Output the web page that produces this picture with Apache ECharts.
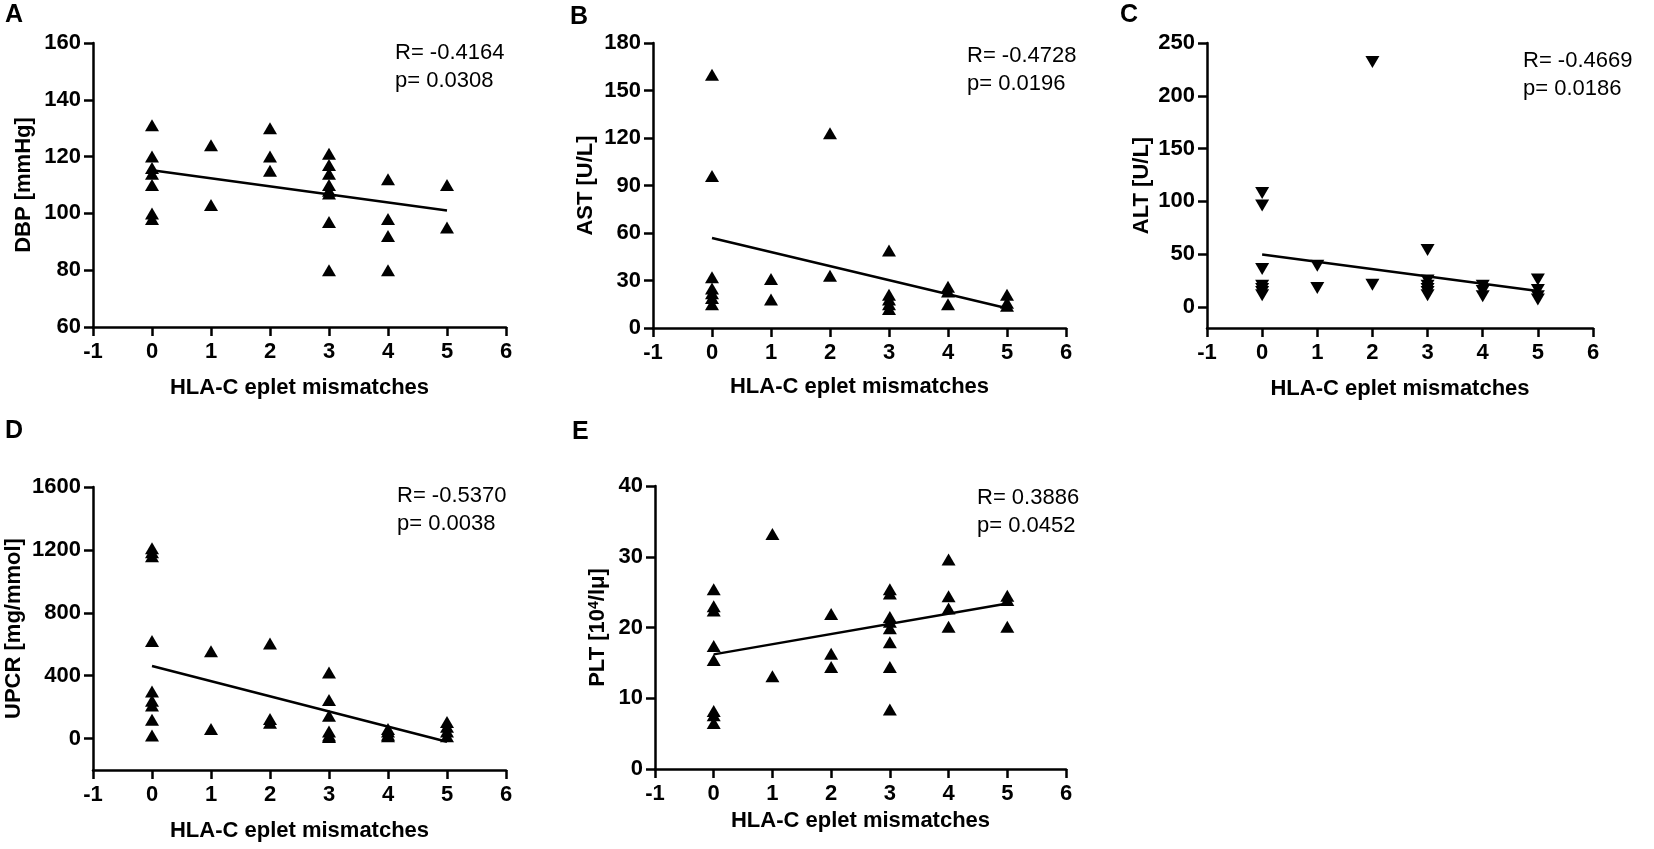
<!DOCTYPE html>
<html style="height: 100%">
<head>
<meta charset="utf-8">
</head>
<body style="height: 100%; margin: 0; background: #fff">
<div id="container" style="width: 1654px; height: 849px"></div>
<script src="https://cdn.jsdelivr.net/npm/echarts@6/dist/echarts.min.js"></script>
<script type="text/javascript">
// HLA-C eplet mismatches (x) for each panel, with the measured value (y)
var xA = [0,0,0,0,0,0,0, 1,1, 2,2,2, 3,3,3,3,3,3,3,3, 4,4,4,4, 5,5];
var dbp = [131,120,116,114,110,100,98, 124,103, 130,120,115, 121,117,114,110,108,107,97,80, 112,98,92,80, 110,95];

var xB = [0,0,0,0,0,0,0, 1,1, 2,2, 3,3,3,3,3, 4,4,4, 5,5,5];
var ast = [160,96,32,25,22,19,15, 31,18, 123,33, 49,21,18,15,12, 26,23,15, 21,16,14];

var xC = [0,0,0,0,0,0,0, 1,1, 2,2, 3,3,3,3,3,3, 4,4,4, 5,5,5,5];
var alt = [108,96,36,20,17,14,11, 39,18, 232,21, 54,25,20,17,14,11, 20,15,10, 26,16,10,7];

var xD = [0,0,0,0,0,0,0,0,0, 1,1, 2,2,2, 3,3,3,3,3,3, 4,4,4,4, 5,5,5,5];
var upcr = [1210,1185,1160,620,300,240,210,120,20, 555,60, 605,125,100, 420,245,145,45,20,10, 60,45,25,15, 105,75,45,15];

var xE = [0,0,0,0,0,0,0,0, 1,1, 2,2,2, 3,3,3,3,3,3,3,3, 4,4,4,4, 5,5,5];
var plt = [25.4,23.0,22.4,17.4,15.4,8.2,7.6,6.5, 33.2,13.1, 21.9,16.3,14.4, 25.4,24.8,21.5,20.8,19.9,17.9,14.4,8.4, 29.6,24.4,22.7,20.1, 24.5,23.9,20.1];

// regression line ends (x = 0 and x = 5)
var fitA = [115.2, 101.0];
var fitB = [56.8, 12.5];
var fitC = [49.7, 15.0];
var fitD = [462, -20];
var fitE = [16.2, 23.4];

var xTicks = [-1, 0, 1, 2, 3, 4, 5, 6];
var ticksC = [0, 50, 100, 150, 200, 250];
var ticksD = [0, 400, 800, 1200, 1600];

var stats = [
    ['R= -0.4164', 'p= 0.0308'],
    ['R= -0.4728', 'p= 0.0196'],
    ['R= -0.4669', 'p= 0.0186'],
    ['R= -0.5370', 'p= 0.0038'],
    ['R= 0.3886', 'p= 0.0452']
];
var letters = ['A', 'B', 'C', 'D', 'E'];

var FONT = '"Liberation Sans", Arial, sans-serif';
var axisLine = {onZero: false, lineStyle: {color: '#000', width: 2.5}};
var axisTick = {length: 9, lineStyle: {color: '#000', width: 2.5}};
var lbl = {color: '#000', fontFamily: FONT, fontWeight: 'bold', fontSize: 22,
    formatter: function (v) { return String(v); }};

function pairs(xs, ys) {
    return xs.map(function (x, i) { return [x, ys[i]]; });
}

var panels = [
    {grid: {left: 93, top: 43, width: 413, height: 284}, xs: xA, ys: dbp, fit: fitA,
     y: {min: 60, max: 160, interval: 20}, name: 'DBP [mmHg]', yGap: 58, xGap: 50},
    {grid: {left: 653, top: 43, width: 413, height: 285}, xs: xB, ys: ast, fit: fitB,
     y: {min: 0, max: 180, interval: 30}, name: 'AST [U/L]', yGap: 56, xGap: 48},
    {grid: {left: 1207, top: 43, width: 386, height: 285}, xs: xC, ys: alt, fit: fitC,
     y: {min: -20, max: 250, custom: ticksC}, name: 'ALT [U/L]', yGap: 54, xGap: 50, down: true},
    {grid: {left: 93, top: 487, width: 413, height: 283}, xs: xD, ys: upcr, fit: fitD,
     y: {min: -200, max: 1600, custom: ticksD}, name: 'UPCR [mg/mmol]', yGap: 68, xGap: 50},
    {grid: {left: 655, top: 486, width: 411, height: 283}, xs: xE, ys: plt, fit: fitE,
     y: {min: 0, max: 40, interval: 10}, name: 'PLT [10{sup|4}/lμ]', yGap: 46, xGap: 41}
];

var option = {
    animation: false,
    backgroundColor: '#fff',
    grid: [], xAxis: [], yAxis: [], series: [], graphic: []
};

panels.forEach(function (p, i) {
    option.grid.push(p.grid);
    option.xAxis.push({
        type: 'value', gridIndex: i, min: xTicks[0], max: xTicks[xTicks.length - 1], interval: 1,
        name: 'HLA-C eplet mismatches', nameLocation: 'middle', nameGap: p.xGap,
        nameTextStyle: {color: '#000', fontFamily: FONT, fontWeight: 'bold', fontSize: 22},
        axisLine: axisLine, axisTick: axisTick, splitLine: {show: false},
        axisLabel: Object.assign({margin: 14}, lbl)
    });
    var ya = {
        type: 'value', gridIndex: i, min: p.y.min, max: p.y.max,
        name: p.name, nameLocation: 'middle', nameGap: p.yGap,
        nameTextStyle: {color: '#000', fontFamily: FONT, fontWeight: 'bold', fontSize: 22,
            rich: {sup: {fontFamily: FONT, fontWeight: 'bold', fontSize: 14, verticalAlign: 'top', padding: [0, 0, 8, 0]}}},
        axisLine: axisLine, axisTick: Object.assign({}, axisTick), splitLine: {show: false},
        axisLabel: Object.assign({margin: 12}, lbl)
    };
    if (p.y.custom) {
        ya.axisTick.customValues = p.y.custom;
        ya.axisLabel.customValues = p.y.custom;
    } else {
        ya.interval = p.y.interval;
    }
    option.yAxis.push(ya);
    option.series.push({
        type: 'scatter', xAxisIndex: i, yAxisIndex: i,
        symbol: 'triangle', symbolSize: [14, 12], symbolRotate: p.down ? 180 : 0,
        itemStyle: {color: '#000', opacity: 1}, z: 3,
        data: pairs(p.xs, p.ys)
    });
    option.series.push({
        type: 'line', xAxisIndex: i, yAxisIndex: i, symbol: 'none', silent: true,
        lineStyle: {color: '#000', width: 2.5}, z: 2,
        data: [[0, p.fit[0]], [5, p.fit[1]]]
    });
});

// stats annotations and panel letters
var statPos = [[395, 52], [967, 55], [1523, 60], [397, 495], [977, 497]];
var letterPos = [[5, 5], [570, 7], [1120, 5], [5, 421], [572, 422]];
stats.forEach(function (s, i) {
    option.graphic.push({
        type: 'text', left: statPos[i][0], top: statPos[i][1] - 13,
        style: {text: s[0] + '\n' + s[1], fill: '#000', font: '22px ' + FONT, lineHeight: 28}
    });
    option.graphic.push({
        type: 'text', left: letterPos[i][0], top: letterPos[i][1] - 2,
        style: {text: letters[i], fill: '#000', font: 'bold 25px ' + FONT}
    });
});

var myChart = echarts.init(document.getElementById('container'));
myChart.setOption(option);
</script>
</body>
</html>
